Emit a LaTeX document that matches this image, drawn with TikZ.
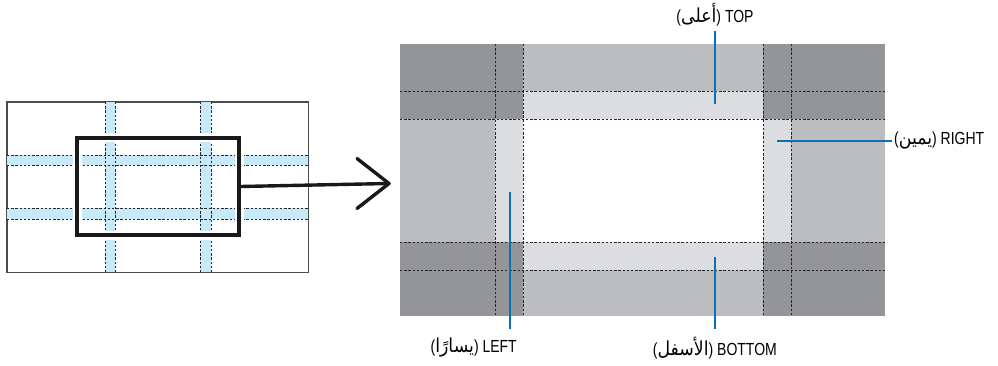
\documentclass[tikz,border=0pt]{standalone}
\usepackage{fontspec}
\setmainfont[FakeStretch=0.8]{Liberation Sans}
\newfontfamily\arabicfont[Script=Arabic,Scale=1.1,FakeStretch=0.9]{DejaVu Sans}
\TeXXeTstate=1
\definecolor{gdark}{HTML}{949598}
\definecolor{gmid}{HTML}{BCBDC0}
\definecolor{glight}{HTML}{DCDDE0}
\definecolor{bandblue}{HTML}{C8E9F7}
\definecolor{leadblue}{HTML}{0A70B8}
\newcommand{\ar}[1]{{\arabicfont\beginR #1\endR}}
\tikzset{
  dashline/.style={draw=black!85, line width=0.9pt, dash pattern=on 2.4pt off 1.8pt},
  leader/.style={draw=leadblue, line width=2.4pt},
  lbl/.style={font=\fontsize{17.5}{20}\selectfont, inner sep=0pt, text=black},
  selbox/.style={draw=black!90, line width=3.2pt, inner sep=0pt, preaction={draw=white, line width=9pt}},
  bigline/.style={draw=black!90, line width=3.4pt, line cap=round, line join=round},
}
\begin{document}
\begin{tikzpicture}[x=1pt,y=-1pt]
\useasboundingbox (0,0) rectangle (998,366);
% ---------- left panel ----------
\node[draw=black!70, line width=0.9pt, fill=white, minimum width=301pt, minimum height=170pt, inner sep=0pt] (screen) at (157.5,187) {};
\fill[bandblue] (105,102) rectangle (115,272);
\fill[bandblue] (200,102) rectangle (211,272);
\fill[bandblue] (7,155) rectangle (308,165);
\fill[bandblue] (7,208) rectangle (308,219);
\foreach \x in {105,115,200,211} \draw[dashline] (\x,102) -- (\x,272);
\foreach \y in {155,165,208,219} \draw[dashline] (7,\y) -- (308,\y);
\draw[draw=black!70, line width=0.9pt] (screen.north west) rectangle (screen.south east);
\node[selbox, minimum width=162pt, minimum height=97pt] (sel) at (158,186.5) {};
% ---------- arrow ----------
\coordinate (tip) at (389,183.5);
\draw[bigline] (sel.east) -- (tip);
\draw[bigline] (tip) ++(-32,-25) -- (tip) -- ++(-32,25);
% ---------- right panel ----------
\fill[gmid] (400,44) rectangle (885,316);
\fill[gdark] (400,44) rectangle (523,119);
\fill[gdark] (763,44) rectangle (885,119);
\fill[gdark] (400,242) rectangle (523,316);
\fill[gdark] (763,242) rectangle (885,316);
\fill[glight] (523,91) rectangle (763,119);
\fill[glight] (523,242) rectangle (763,270);
\fill[glight] (495,119) rectangle (523,242);
\fill[glight] (763,119) rectangle (791,242);
\fill[white] (523,119) rectangle (763,242);
\foreach \x in {495,523,763,791} \draw[dashline] (\x,44) -- (\x,316);
\foreach \y in {91,119,242,270} \draw[dashline] (400,\y) -- (885,\y);
% ---------- labels ----------
\node[lbl] (ltop) at (715,15) {(\ar{أعلى}) TOP};
\node[lbl, anchor=west] (lright) at (894,141) {(\ar{يمين}) RIGHT};
\node[lbl, anchor=east] (lleft) at (517,348) {(\ar{يسارًا}) LEFT};
\node[lbl, anchor=east] (lbottom) at (777,348) {(\ar{الأسفل}) BOTTOM};
\coordinate (ttop) at (715,104);
\coordinate (tright) at (777,141);
\coordinate (tleft) at (510,192);
\coordinate (tbottom) at (715,257);
\draw[leader] (715,31) -- (ttop);
\draw[leader] (lright.west) ++(-2,0) -- (tright);
\draw[leader] (510,329) -- (tleft);
\draw[leader] (715,329) -- (tbottom);
\end{tikzpicture}
\end{document}
